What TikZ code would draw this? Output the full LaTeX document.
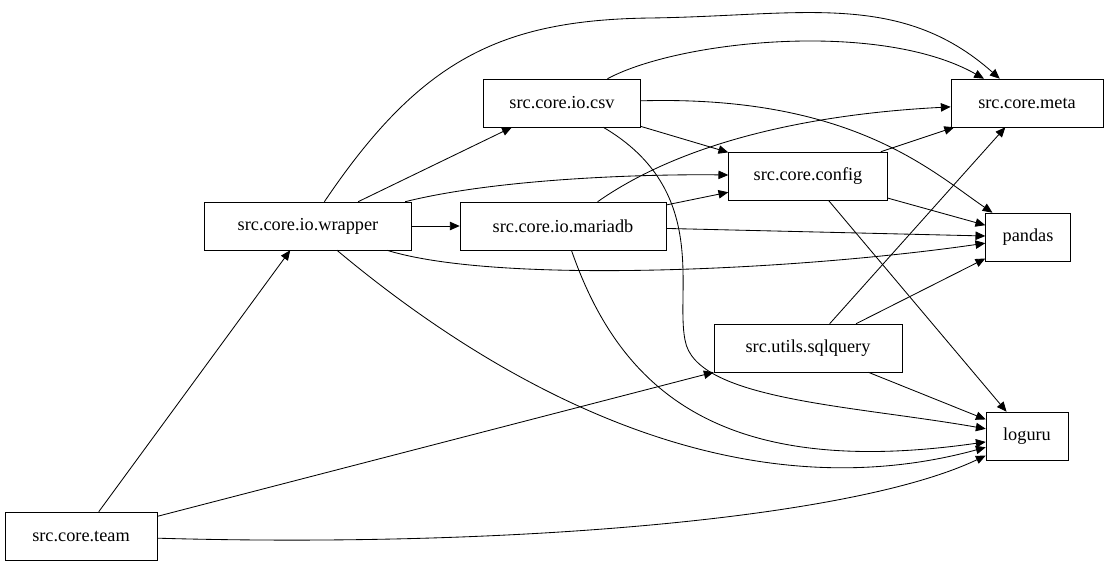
\documentclass[tikz,border=0pt]{standalone}
\usepackage{fontspec}
\setmainfont{Liberation Serif}
\usetikzlibrary{arrows.meta}
\tikzset{
  mod/.style={draw, rectangle, minimum height=1.2cm, inner sep=0pt, font=\fontsize{13}{15}\selectfont},
  dep/.style={-{Triangle[length=7pt,width=6pt]}, semithick}
}
\begin{document}
\begin{tikzpicture}[x=0.025cm, y=-0.025cm]
            \useasboundingbox (0,0) rectangle (1108,566);
            \node[mod, minimum width=3.8cm] (team) at (81,536) {src.core.team};
            \node[mod, minimum width=5.17cm] (wrapper) at (308,226) {src.core.io.wrapper};
            \node[mod, minimum width=3.92cm] (csv) at (562,103) {src.core.io.csv};
            \node[mod, minimum width=5.15cm] (mariadb) at (563,226) {src.core.io.mariadb};
            \node[mod, minimum width=3.97cm] (config) at (808,176) {src.core.config};
            \node[mod, minimum width=4.7cm] (sqlquery) at (808,348) {src.utils.sqlquery};
            \node[mod, minimum width=3.8cm] (meta) at (1027,103) {src.core.meta};
            \node[mod, minimum width=2.12cm] (pandas) at (1028,237) {pandas};
            \node[mod, minimum width=2.05cm] (loguru) at (1027,436) {loguru};

            % team
            \draw[dep] (team) -- (wrapper);
            \draw[dep] (team) -- (sqlquery);
            \draw[dep] (team) .. controls (500,548) and (850,520) .. (loguru);

            % wrapper
            \draw[dep] (wrapper) -- (csv);
            \draw[dep] (wrapper) -- (mariadb);
            \draw[dep] (wrapper) .. controls (500,178) and (650,174) .. (config);
            \draw[dep] (wrapper) .. controls (420,60) and (500,20) .. (650,18)
                                 .. controls (800,16) and (900,-10) .. (meta);
            \draw[dep] (wrapper) .. controls (500,285) and (800,270) .. (pandas);
            \draw[dep] (wrapper) .. controls (480,370) and (720,520) .. (loguru);

            % csv
            \draw[dep] (csv) .. controls (680,40) and (880,20) .. (meta);
            \draw[dep] (csv) -- (config);
            \draw[dep] (csv) .. controls (850,95) and (930,170) .. (pandas);
            \draw[dep] (csv) .. controls (710,190) and (675,290) .. (685,340)
                             .. controls (695,400) and (850,405) .. (loguru);

            % mariadb
            \draw[dep] (mariadb) -- (config);
            \draw[dep] (mariadb) .. controls (700,130) and (850,112) .. (meta);
            \draw[dep] (mariadb) -- (pandas);
            \draw[dep] (mariadb) .. controls (620,390) and (720,480) .. (loguru);

            % config
            \draw[dep] (config) -- (meta);
            \draw[dep] (config) -- (pandas);
            \draw[dep] (config) -- (loguru);

            % sqlquery
            \draw[dep] (sqlquery) -- (meta);
            \draw[dep] (sqlquery) -- (pandas);
            \draw[dep] (sqlquery) -- (loguru);
\end{tikzpicture}
\end{document}
